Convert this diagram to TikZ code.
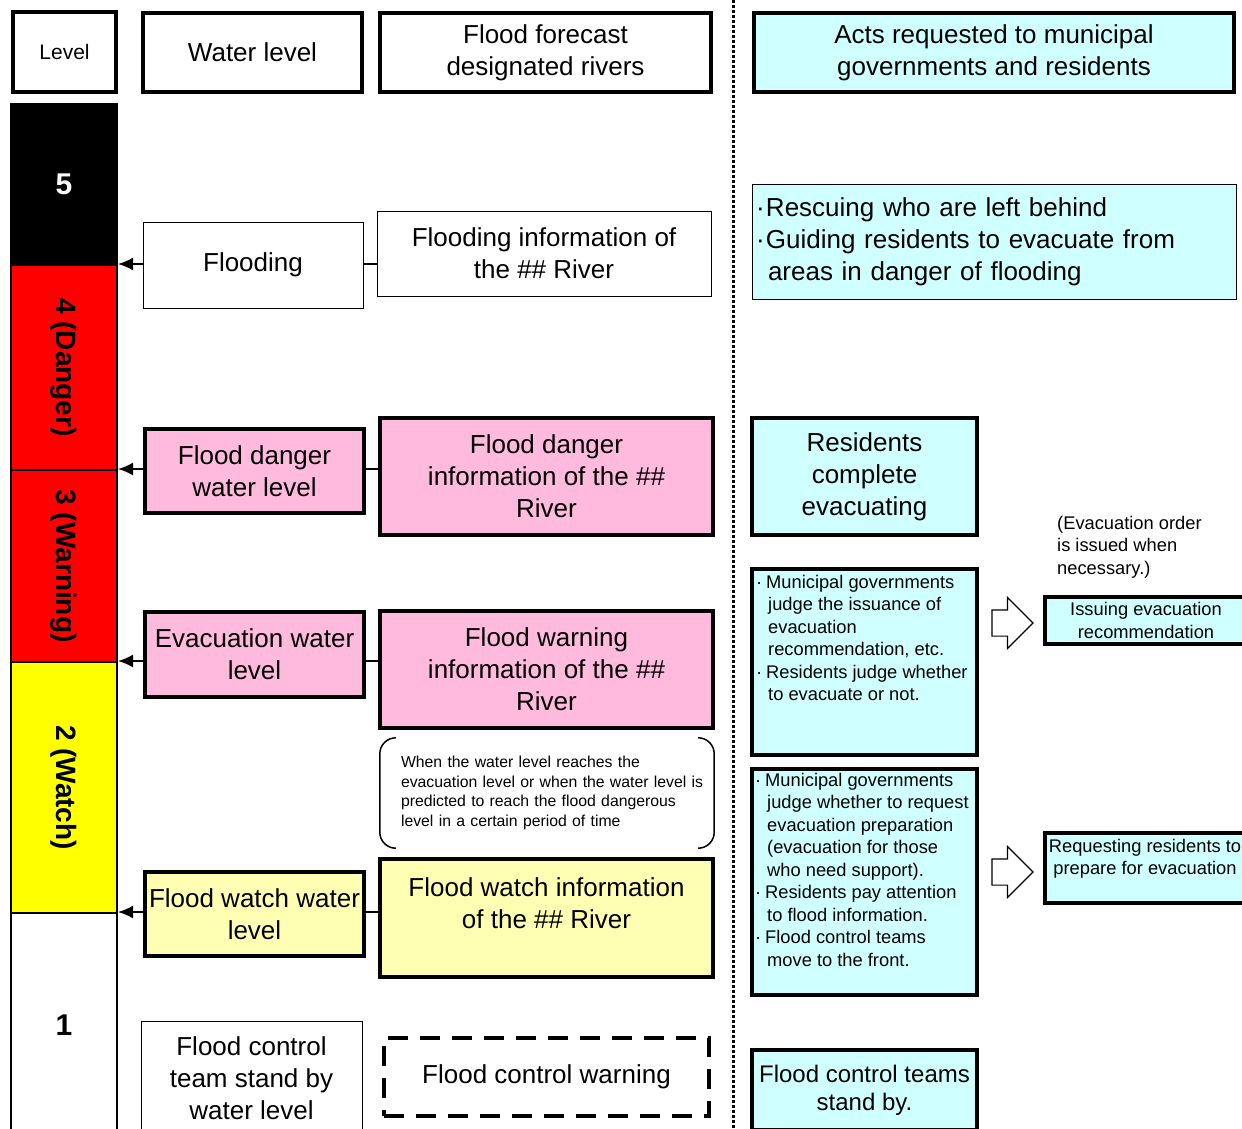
\documentclass[tikz,border=0pt]{standalone}
\usepackage{fontspec}
\setmainfont{Liberation Sans}
\usepackage{xcolor}
\usetikzlibrary{arrows.meta, shapes.arrows, positioning}
\definecolor{PinkBox}{RGB}{255,186,222}
\definecolor{CyanBox}{RGB}{208,255,255}
\definecolor{YellowBox}{RGB}{255,255,180}
\definecolor{BarRed}{RGB}{255,0,0}
\definecolor{BarYellow}{RGB}{255,255,0}
\newcommand{\bul}{\makebox[10pt][l]{·}}
\newcommand{\bulskip}{\hspace*{12pt}}
\tikzset{
  >={Latex[length=15pt,width=13pt]},
  % text sizes
  txt big/.style={font=\fontsize{26}{32}\selectfont, align=center},
  txt mid/.style={font=\fontsize{24}{28}\selectfont, align=center},
  txt small/.style={font=\fontsize{18.3}{22.5}\selectfont},
  txt note/.style={font=\fontsize{15.8}{19.5}\selectfont, align=left},
  txt level/.style={font=\fontsize{21}{25}\selectfont},
  % boxes
  box thin/.style={draw, line width=1pt, txt big, inner sep=0pt},
  box thick/.style={draw, line width=4pt, txt big, inner sep=0pt},
  box pink/.style={box thick, fill=PinkBox},
  box yellow/.style={box thick, fill=YellowBox},
  box cyan/.style={box thick, fill=CyanBox},
  box dashed/.style={box thick, dash pattern=on 20pt off 12pt},
  % level bar
  lvl/.style={draw, line width=2pt, minimum width=106pt, inner sep=0pt},
  lvl num/.style={font=\fontsize{30}{34}\selectfont\bfseries},
  lvl tag/.style={font=\fontsize{28}{32}\selectfont\bfseries, rotate=-90},
  % connections
  link/.style={line width=2pt},
  link arrow/.style={<-, line width=2pt},
  bracket/.style={line width=1.5pt, rounded corners=16pt},
  go arrow/.style={single arrow, draw, line width=1.2pt, fill=white,
    minimum height=41pt, inner xsep=0pt, inner ysep=12.5pt,
    single arrow head extend=12.5pt}
}
\begin{document}
\begin{tikzpicture}[x=1pt,y=-1pt]
  \useasboundingbox[fill=white] (0,0) rectangle (1242,1129);
  % header row
  \node[box thick, txt level, minimum width=103, minimum height=80] (hlevel) at (64.5,52) {Level};
  \node[box thick, minimum width=219, minimum height=79] (hwater) at (252.5,52.5) {Water level};
  \node[box thick, minimum width=331, minimum height=79] (hriver) at (545.5,52.5) {Flood forecast\\designated rivers};
  \node[box cyan, minimum width=480, minimum height=79] (hacts) at (994,52.5) {Acts requested to municipal\\governments and residents};
  % separator
  \draw[line width=3pt, dash pattern=on 3pt off 2pt] (733,0) -- (733,1129);
  % level bar
  \node[lvl, fill=black, minimum height=161] (lv5) at (64,184.5) {};
  \node[lvl, fill=BarRed, minimum height=205] (lv4) at (64,367.5) {};
  \node[lvl, fill=BarRed, minimum height=192] (lv3) at (64,566) {};
  \node[lvl, fill=BarYellow, minimum height=251] (lv2) at (64,787.5) {};
  \node[lvl, fill=white, minimum height=224] (lv1) at (64,1025) {};
  \node[lvl num, text=white] (t5) at (lv5) {5};
  \node[lvl tag] (t4) at (lv4) {4 (Danger)};
  \node[lvl tag] (t3) at (lv3) {3 (Warning)};
  \node[lvl tag] (t2) at (lv2) {2 (Watch)};
  \node[lvl num] (t1) at (lv1) {1};
  % water levels
  \node[box thin, minimum width=220, minimum height=86] (flooding) at (253,265) {Flooding};
  \node[box pink, minimum width=219, minimum height=84] (dangerwl) at (254.5,471) {Flood danger\\water level};
  \node[box pink, minimum width=219, minimum height=85] (evacwl) at (254.5,654.5) {Evacuation water\\level};
  \node[box yellow, minimum width=219, minimum height=84] (watchwl) at (254.5,914) {Flood watch water\\level};
  \node[box thin, minimum width=221, minimum height=114] (standwl) at (251.5,1078) {Flood control\\team stand by\\water level};
  % river information
  \node[box thin, minimum width=334, minimum height=85] (floodinfo) at (544,253.5) {Flooding information of\\the \#\# River};
  \node[box pink, minimum width=333, minimum height=117] (dangerinfo) at (546.5,476.5) {Flood danger\\information of the \#\#\\River};
  \node[box pink, minimum width=333, minimum height=117] (warninfo) at (546.5,669.5) {Flood warning\\information of the \#\#\\River};
  \node[box yellow, minimum width=333, minimum height=118, text depth=30pt] (watchinfo) at (546.5,918) {Flood watch information\\of the \#\# River};
  \node[box dashed, minimum width=325, minimum height=78] (ctrlwarn) at (546.5,1077) {Flood control warning};
  % condition note
  \node[txt note, text width=308, minimum width=334, minimum height=110, inner sep=0pt] (cond) at (555,793)
    {When the water level reaches the\\evacuation level or when the water level is\\predicted to reach the flood dangerous\\level in a certain period of time};
  \draw[bracket] ([xshift=7pt]cond.north west) -- ([xshift=-8pt]cond.north west) -- ([xshift=-8pt]cond.south west) -- ([xshift=7pt]cond.south west);
  \draw[bracket] ([xshift=-23pt]cond.north east) -- ([xshift=-8pt]cond.north east) -- ([xshift=-8pt]cond.south east) -- ([xshift=-23pt]cond.south east);
  % arrows to the bar
  \draw[link arrow] (lv4.north east) -- (lv4.north east -| flooding.west);
  \draw[link arrow] (lv3.north east) -- (lv3.north east -| dangerwl.west);
  \draw[link arrow] (lv2.north east) -- (lv2.north east -| evacwl.west);
  \draw[link arrow] (lv1.north east) -- (lv1.north east -| watchwl.west);
  \draw[link] (lv4.north -| flooding.east) -- (lv4.north -| floodinfo.west);
  \draw[link] (lv3.north -| dangerwl.east) -- (lv3.north -| dangerinfo.west);
  \draw[link] (lv2.north -| evacwl.east) -- (lv2.north -| warninfo.west);
  \draw[link] (lv1.north -| watchwl.east) -- (lv1.north -| watchinfo.west);
  % acts requested
  \node[box thin, fill=CyanBox, text width=476, align=left, inner xsep=4pt, minimum height=115] (rescue) at (994,241.5)
    {\bul Rescuing who are left behind\\\bul Guiding residents to evacuate from\\\bulskip areas in danger of flooding};
  \node[box cyan, minimum width=225, minimum height=117] (complete) at (864.5,476.5) {Residents\\complete\\evacuating};
  \node[box cyan, minimum width=225, minimum height=186] (judge1) at (864.5,662) {};
  \node[txt small, align=left, anchor=north west, inner sep=0pt] (judge1txt) at (756,575)
    {\bul Municipal governments\\\bulskip judge the issuance of\\\bulskip evacuation\\\bulskip recommendation, etc.\\\bul Residents judge whether\\\bulskip to evacuate or not.};
  \node[box cyan, minimum width=225, minimum height=226] (judge2) at (864.5,882) {};
  \node[txt small, align=left, anchor=north west, inner sep=0pt] (judge2txt) at (755,773)
    {\bul Municipal governments\\\bulskip judge whether to request\\\bulskip evacuation preparation\\\bulskip (evacuation for those\\\bulskip who need support).\\\bul Residents pay attention\\\bulskip to flood information.\\\bul Flood control teams\\\bulskip move to the front.};
  \node[box cyan, txt mid, minimum width=225, minimum height=80] (teams) at (864.5,1090) {Flood control teams\\stand by.};
  % follow-up acts
  \node[go arrow] (go1) at (1006,623) {};
  \node[go arrow] (go2) at (1006,872) {};
  \node[txt small, align=left, anchor=north west, inner sep=0pt] (order) at (1057,516) {(Evacuation order\\is issued when\\necessary.)};
  \node[box cyan, txt small, align=center, minimum width=202, minimum height=47] (issue) at (1146,620.5) {Issuing evacuation\\recommendation};
  \node[box cyan, minimum width=200, minimum height=70] (request) at (1145,868) {};
  \node[txt small, align=center, anchor=north, inner sep=0pt] (requesttxt) at (1145,839) {Requesting residents to\\prepare for evacuation};
\end{tikzpicture}
\end{document}
